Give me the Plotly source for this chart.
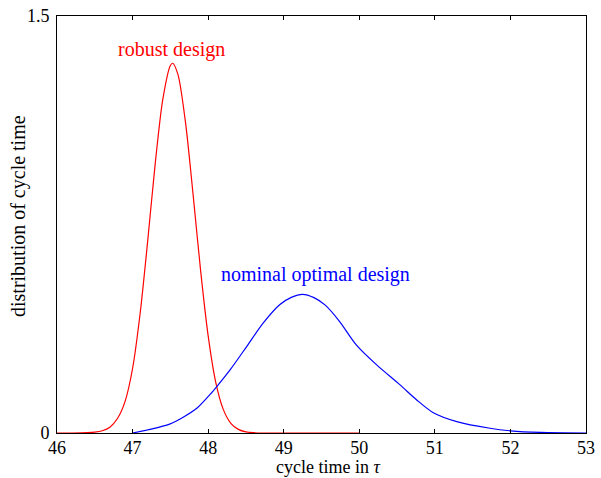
import plotly.graph_objects as go

# Robust design distribution
robust_x = [46.0, 46.2, 46.4, 46.5, 46.6, 46.7, 46.8, 46.9, 47.0, 47.1, 47.2, 47.3, 47.4,
            47.5, 47.53, 47.6, 47.7, 47.8, 47.9, 48.0, 48.1, 48.2, 48.3, 48.4, 48.5,
            48.6, 48.8, 49.0, 49.5, 50.0]
robust_y = [0.0, 0.0, 0.001, 0.003, 0.008, 0.021, 0.052, 0.113, 0.232, 0.43, 0.69, 0.97, 1.20,
            1.322, 1.33, 1.29, 1.118, 0.86, 0.585, 0.35, 0.183, 0.085, 0.035, 0.013, 0.004,
            0.001, 0.0, 0.0, 0.0, 0.0]

# Nominal optimal design distribution
nominal_x = [47.0, 47.23, 47.49, 47.67, 47.85, 48.02, 48.12, 48.29, 48.51, 48.73, 48.95,
             49.1, 49.25, 49.4, 49.55, 49.74, 49.96, 50.23, 50.54, 50.76, 50.98, 51.29,
             51.73, 52.0, 52.4, 53.0]
nominal_y = [0.0, 0.013, 0.032, 0.057, 0.089, 0.137, 0.169, 0.227, 0.311, 0.396, 0.462,
             0.488, 0.499, 0.487, 0.460, 0.401, 0.317, 0.245, 0.173, 0.119, 0.073, 0.041,
             0.017, 0.008, 0.002, 0.0]

x_ticks = [46, 47, 48, 49, 50, 51, 52, 53]
y_ticks = [0, 1.5]
y_tick_labels = ["0", "1.5"]

FONT = "Liberation Serif"
FS_TICK = 18
FS = 18
FS_LABEL = 20

fig = go.Figure()
fig.add_trace(go.Scatter(x=robust_x, y=robust_y, mode="lines",
                         line=dict(color="#ff0000", width=1.2, shape="spline", smoothing=0.8),
                         showlegend=False, hoverinfo="skip"))
fig.add_trace(go.Scatter(x=nominal_x, y=nominal_y, mode="lines",
                         line=dict(color="#0000ff", width=1.2, shape="spline", smoothing=0.8),
                         showlegend=False, hoverinfo="skip"))

fig.add_annotation(x=47.52, y=1.378, xref="x", yref="y", text="robust design",
                   showarrow=False, font=dict(family=FONT, size=FS_LABEL, color="#ff0000"),
                   xanchor="center", yanchor="middle")
fig.add_annotation(x=49.425, y=0.57, xref="x", yref="y", text="nominal optimal design",
                   showarrow=False, font=dict(family=FONT, size=FS_LABEL, color="#0000ff"),
                   xanchor="center", yanchor="middle")

fig.add_annotation(x=0.512, y=-0.1075, xref="paper", yref="paper", text="cycle time in <i>τ</i>",
                   showarrow=False, font=dict(family=FONT, size=FS, color="black"),
                   xanchor="center", yanchor="bottom", borderpad=0)
fig.add_annotation(x=-0.074, y=0.52, xref="paper", yref="paper", text="distribution of cycle time",
                   showarrow=False, textangle=-90, font=dict(family=FONT, size=FS_LABEL, color="black"),
                   xanchor="center", yanchor="middle")

axis_common = dict(showline=True, linecolor="black", linewidth=1, mirror="ticks",
                   ticks="inside", ticklen=4, tickwidth=1, tickcolor="black",
                   showgrid=False, zeroline=False, automargin=False,
                   tickfont=dict(family=FONT, size=FS_TICK, color="black"))

fig.update_xaxes(range=[46, 53], tickvals=x_ticks, ticklabelstandoff=-2, **axis_common)
fig.update_yaxes(range=[0, 1.5], tickvals=y_ticks, ticktext=y_tick_labels,
                 ticklabelstandoff=3, **axis_common)

fig.update_layout(width=601, height=478, margin=dict(l=57, r=15, t=16, b=45),
                  paper_bgcolor="white", plot_bgcolor="white",
                  font=dict(family=FONT, size=FS, color="black"))

fig.write_html("out.html")
